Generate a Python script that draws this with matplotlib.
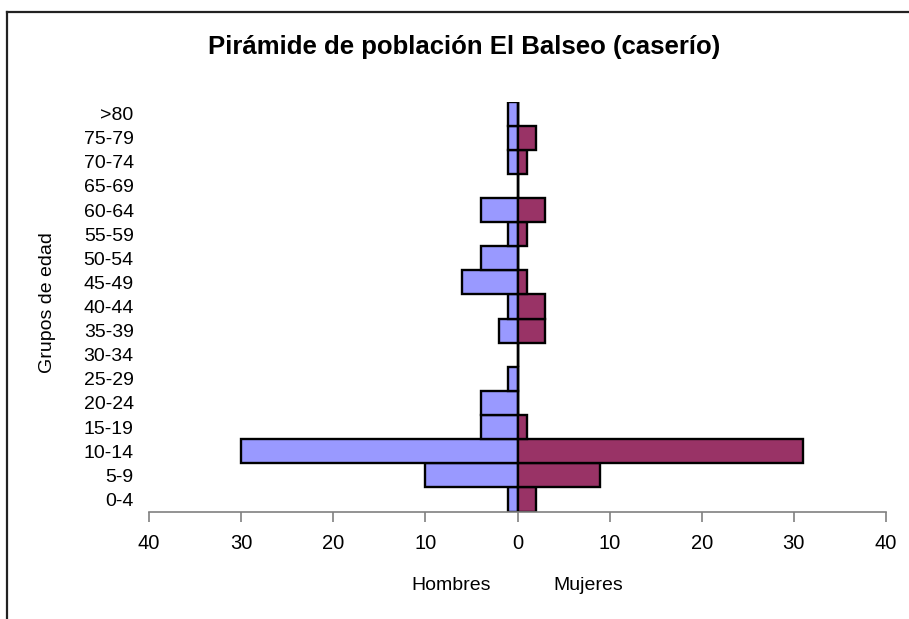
import numpy as np
import matplotlib
matplotlib.use('Agg')
import matplotlib.pyplot as plt
from matplotlib.lines import Line2D

plt.rcParams['font.family'] = ['Liberation Sans', 'DejaVu Sans']

grupos = ['0-4', '5-9', '10-14', '15-19', '20-24', '25-29', '30-34', '35-39',
          '40-44', '45-49', '50-54', '55-59', '60-64', '65-69', '70-74',
          '75-79', '>80']
hombres = [1, 10, 30, 4, 4, 1, 0, 2, 1, 6, 4, 1, 4, 0, 1, 1, 1]
mujeres = [2, 9, 31, 1, 0, 0, 0, 3, 3, 1, 0, 1, 3, 0, 1, 2, 0]

C_H = '#9999FF'
C_M = '#993366'

fig = plt.figure(figsize=(9.09, 6.19), dpi=100, facecolor='white')
ax = fig.add_axes([149/909, 1 - 511.5/619, (886-149)/909, (511.5-101.5)/619])

y = np.arange(len(grupos))
ax.barh(y, [-v for v in hombres], height=1.0, color=C_H, edgecolor='black', lw=1.7)
ax.barh(y, mujeres, height=1.0, color=C_M, edgecolor='black', lw=1.7)

ax.set_xlim(-40, 40)
ax.set_ylim(-0.5, len(grupos) - 0.5)
ax.axvline(0, color='black', lw=1.0, zorder=0)

ax.set_xticks(np.arange(-40, 41, 10))
ax.set_xticklabels([str(abs(v)) for v in range(-40, 41, 10)])
ax.set_yticks(y)
ax.set_yticklabels(grupos)

for s in ['top', 'right', 'left']:
    ax.spines[s].set_visible(False)
ax.spines['bottom'].set_color('#808080')
ax.spines['bottom'].set_linewidth(1.2)
ax.tick_params(axis='x', direction='out', length=7, width=1.2, color='#808080',
               labelsize=14.5, pad=9)
ax.tick_params(axis='y', length=0, labelsize=14, pad=11)

fig.text(464/909, 1 - 47/619, 'Pirámide de población El Balseo (caserío)',
         ha='center', va='center', fontsize=18.5, fontweight='bold')
fig.text(48/909, 1 - 303/619, 'Grupos de edad', rotation=90,
         ha='center', va='center', fontsize=14)
fig.text(451/909, 1 - 585/619, 'Hombres', ha='center', va='center', fontsize=14)
fig.text(588/909, 1 - 585/619, 'Mujeres', ha='center', va='center', fontsize=14)

# chart frame (right and bottom edges fall outside the picture)
fig.add_artist(Line2D([6.5/909, 6.5/909], [0, 1 - 11.5/619], color='#222222', lw=1.6,
                      transform=fig.transFigure))
fig.add_artist(Line2D([6.5/909, 1], [1 - 11.5/619, 1 - 11.5/619], color='#222222', lw=1.6,
                      transform=fig.transFigure))

fig.savefig('out.png', dpi=100, facecolor='white')
